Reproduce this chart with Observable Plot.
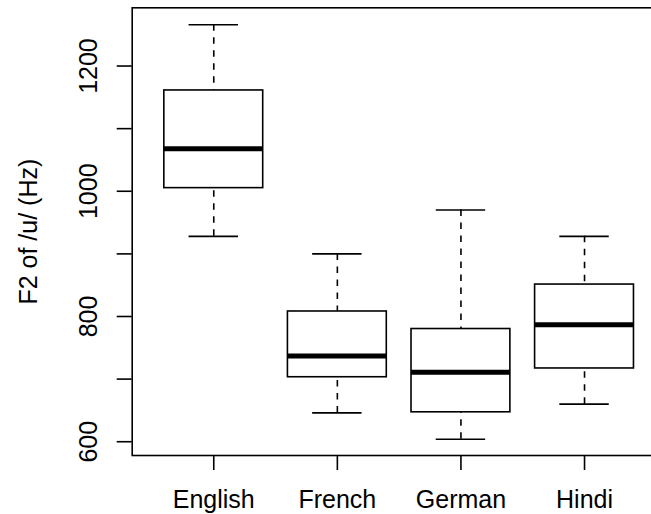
<!DOCTYPE html>
<html><head><meta charset="utf-8">
<script src="https://cdn.jsdelivr.net/npm/d3@7"></script>
<script src="https://cdn.jsdelivr.net/npm/@observablehq/plot@0.6"></script>
<style>
html,body{margin:0;padding:0;background:#fff;overflow:hidden;}
#chart svg{overflow:hidden;display:block;}
#chart g[aria-label$="tick"]{stroke-width:1.6px;}
</style></head><body><div id="chart"></div>
<script>
const languages = ["English", "French", "German", "Hindi"];
const lowerWhisker = [928, 646, 604, 660];
const lowerQuartile = [1005, 703, 647, 717];
const medians = [1068, 737, 711, 787];
const upperQuartile = [1161, 808, 780, 851];
const upperWhisker = [1266, 900, 970, 928];
const yTicks = [600, 700, 800, 900, 1000, 1100, 1200];
const yTickLabels = [600, 800, 1000, 1200];
const yTitle = "F2 of /u/ (Hz)";

const rows = languages.map((name, i) => ({
  name, pos: i + 1,
  lo: lowerWhisker[i], q1: lowerQuartile[i], med: medians[i],
  q3: upperQuartile[i], hi: upperWhisker[i]
}));

const lw = 1.6;
const plot = Plot.plot({
  width: 651, height: 514,
  marginLeft: 131.7, marginRight: -14.6, marginTop: 7.3, marginBottom: 59,
  style: {fontFamily: "'Liberation Sans', Arial, Helvetica, sans-serif", fontSize: "25px", color: "black", background: "white"},
  x: {type: "linear", domain: [0.34, 4.66], ticks: [1, 2, 3, 4], tickFormat: d => languages[d - 1], tickSize: 15, tickPadding: 20, label: null},
  y: {domain: [578, 1293], ticks: yTicks, tickFormat: d => yTickLabels.includes(d) ? String(d) : "", tickSize: 15, tickRotate: -90, tickPadding: 20, label: null},
  marks: [
    Plot.frame({stroke: "black", strokeWidth: lw}),
    Plot.ruleX(rows, {x: "pos", y1: "hi", y2: "q3", stroke: "black", strokeWidth: lw, strokeDasharray: "6.5,6.5"}),
    Plot.ruleX(rows, {x: "pos", y1: "lo", y2: "q1", stroke: "black", strokeWidth: lw, strokeDasharray: "6.5,6.5"}),
    Plot.ruleY(rows, {y: "hi", x1: d => d.pos - 0.2, x2: d => d.pos + 0.2, stroke: "black", strokeWidth: lw}),
    Plot.ruleY(rows, {y: "lo", x1: d => d.pos - 0.2, x2: d => d.pos + 0.2, stroke: "black", strokeWidth: lw}),
    Plot.rect(rows, {x1: d => d.pos - 0.4, x2: d => d.pos + 0.4, y1: "q1", y2: "q3", fill: "white", stroke: "black", strokeWidth: lw}),
    Plot.ruleY(rows, {y: "med", x1: d => d.pos - 0.4, x2: d => d.pos + 0.4, stroke: "black", strokeWidth: 5}),
    Plot.text([yTitle], {text: d => d, frameAnchor: "left", dx: -95.7, rotate: -90, textAnchor: "middle", lineAnchor: "bottom", fill: "black", fontSize: 25})
  ]
});
document.getElementById("chart").appendChild(plot);
</script></body></html>
